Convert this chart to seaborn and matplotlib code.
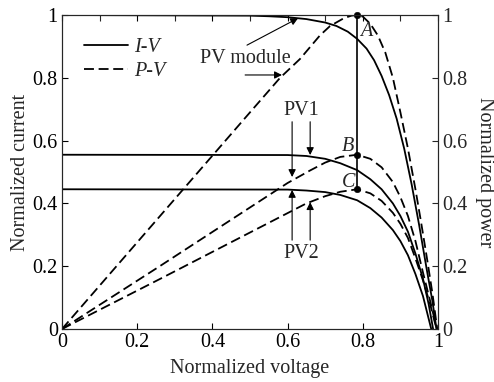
import matplotlib
matplotlib.use("Agg")
import matplotlib.pyplot as plt
import seaborn as sns
import pandas as pd
from matplotlib.lines import Line2D
from matplotlib.ticker import FixedLocator

# ---------------- data ----------------
v_mod_iv = [0, 0.5, 0.55, 0.6, 0.65, 0.7, 0.73, 0.76, 0.785, 0.81, 0.83, 0.85, 0.87, 0.89, 0.91, 0.93, 0.95, 0.97, 0.985, 0.996]
i_mod_iv = [1.0, 0.998, 0.996, 0.993, 0.987, 0.976, 0.965, 0.947, 0.924, 0.893, 0.856, 0.806, 0.745, 0.67, 0.575, 0.46, 0.33, 0.19, 0.09, 0.0]

v_mod_pv = [0, 0.2, 0.4, 0.5, 0.58, 0.633, 0.686, 0.713, 0.75, 0.77, 0.785, 0.80, 0.82, 0.84, 0.86, 0.88, 0.90, 0.92, 0.94, 0.955, 0.97, 0.985, 0.998]
p_mod_pv = [0, 0.276, 0.552, 0.69, 0.80, 0.86, 0.935, 0.965, 0.99, 0.998, 1.0, 0.995, 0.972, 0.935, 0.88, 0.80, 0.69, 0.575, 0.445, 0.34, 0.23, 0.115, 0.0]

v_pv1_iv = [0, 0.6, 0.65, 0.7, 0.74, 0.785, 0.82, 0.85, 0.88, 0.9, 0.92, 0.94, 0.96, 0.975, 0.987]
i_pv1_iv = [0.555, 0.554, 0.551, 0.542, 0.528, 0.506, 0.477, 0.445, 0.40, 0.36, 0.31, 0.24, 0.16, 0.08, 0.0]

v_pv1_pv = [0, 0.26, 0.6, 0.66, 0.7, 0.74, 0.785, 0.82, 0.85, 0.88, 0.9, 0.92, 0.94, 0.96, 0.98, 0.997]
p_pv1_pv = [0, 0.20, 0.465, 0.505, 0.53, 0.548, 0.555, 0.542, 0.515, 0.468, 0.42, 0.36, 0.28, 0.18, 0.085, 0.0]

v_pv2_iv = [0, 0.6, 0.65, 0.7, 0.74, 0.785, 0.82, 0.85, 0.88, 0.9, 0.92, 0.94, 0.96, 0.982]
i_pv2_iv = [0.445, 0.444, 0.441, 0.436, 0.427, 0.41, 0.385, 0.355, 0.315, 0.28, 0.235, 0.175, 0.105, 0.0]

v_pv2_pv = [0, 0.26, 0.65, 0.7, 0.74, 0.785, 0.82, 0.85, 0.88, 0.9, 0.92, 0.94, 0.96, 0.98, 0.996]
p_pv2_pv = [0, 0.159, 0.40, 0.423, 0.437, 0.445, 0.432, 0.408, 0.37, 0.335, 0.29, 0.225, 0.155, 0.075, 0.0]

mpp_v = 0.785
mpp_vals = [1.0, 0.555, 0.445]
mpp_labels = ["A", "B", "C"]

x_ticks = [0, 0.2, 0.4, 0.6, 0.8, 1.0]
x_ticklabels = ["0", "0.2", "0.4", "0.6", "0.8", "1"]
x_top_minor = [0.1, 0.3, 0.5, 0.7, 0.9]
y_ticks = [0, 0.2, 0.4, 0.6, 0.8, 1.0]
y_ticklabels = ["0", "0.2", "0.4", "0.6", "0.8", "1"]

# ---------------- style ----------------
sns.set_style("ticks")
plt.rcParams["font.family"] = ["Liberation Serif", "DejaVu Serif"]
FS = 14.5

fig = plt.figure(figsize=(4.94, 3.82), dpi=100)
ax = fig.add_axes([62 / 494, 53 / 382, 376 / 494, 314 / 382])

LW = 1.3
DASH = (5.5, 2.6)

curves = [
    (v_mod_iv, i_mod_iv, "-"),
    (v_mod_pv, p_mod_pv, "--"),
    (v_pv1_iv, i_pv1_iv, "-"),
    (v_pv1_pv, p_pv1_pv, "--"),
    (v_pv2_iv, i_pv2_iv, "-"),
    (v_pv2_pv, p_pv2_pv, "--"),
]
for xs, ys, ls in curves:
    df = pd.DataFrame({"v": xs, "y": ys})
    sns.lineplot(data=df, x="v", y="y", ax=ax, color="black", lw=LW,
                 sort=False, estimator=None)
    l = ax.lines[-1]
    l.set_solid_joinstyle("round")
    if ls == "--":
        l.set_dashes(DASH)

# vertical MPP line and points
sns.lineplot(x=[mpp_v, mpp_v], y=[min(mpp_vals), max(mpp_vals)], ax=ax,
             color="black", lw=1.2, estimator=None)
sns.scatterplot(x=[mpp_v] * 3, y=mpp_vals, ax=ax, color="black", s=22,
                edgecolor="black", zorder=5, clip_on=False)

# A B C labels
lab_pos = {"A": (0.809, 0.946), "B": (0.761, 0.58), "C": (0.761, 0.468)}
for lab in mpp_labels:
    x, y = lab_pos[lab]
    ax.text(x, y, lab, fontsize=FS, fontstyle="italic", ha="center", va="center")

# annotations
ap = dict(arrowstyle="-|>", color="black", lw=0.8, mutation_scale=11, shrinkA=0, shrinkB=0)
ax.text(0.487, 0.863, "PV module", fontsize=FS, ha="center", va="center")
ax.annotate("", xy=(0.628, 0.99), xytext=(0.492, 0.904), arrowprops=ap)
ax.annotate("", xy=(0.585, 0.809), xytext=(0.487, 0.809), arrowprops=ap)

ax.text(0.636, 0.697, "PV1", fontsize=FS, ha="center", va="center")
ax.annotate("", xy=(0.612, 0.484), xytext=(0.612, 0.66), arrowprops=ap)
ax.annotate("", xy=(0.66, 0.554), xytext=(0.66, 0.66), arrowprops=ap)

ax.text(0.636, 0.242, "PV2", fontsize=FS, ha="center", va="center")
ax.annotate("", xy=(0.612, 0.443), xytext=(0.612, 0.283), arrowprops=ap)
ax.annotate("", xy=(0.66, 0.404), xytext=(0.66, 0.283), arrowprops=ap)

# legend
handles = [Line2D([], [], color="black", lw=LW),
           Line2D([], [], color="black", lw=LW, dashes=DASH)]
leg = ax.legend(handles, ["I-V", "P-V"], loc="upper left",
                bbox_to_anchor=(0.01, 0.985), frameon=False, fontsize=FS,
                handlelength=2.2, handletextpad=0.3, labelspacing=0.25)
for t in leg.get_texts():
    t.set_fontstyle("italic")

# axes
ax.set_xlim(0, 1)
ax.set_ylim(0, 1)
ax.set_xticks(x_ticks)
ax.set_xticklabels(x_ticklabels, fontsize=FS)
ax.xaxis.set_minor_locator(FixedLocator(x_top_minor))
ax.set_yticks(y_ticks)
ax.set_yticklabels(y_ticklabels, fontsize=FS)
ax.tick_params(axis="both", which="major", direction="in", length=4, width=0.8,
               pad=3, colors="black")
ax.tick_params(axis="x", which="major", top=True)
ax.tick_params(axis="x", which="minor", bottom=False, top=True, direction="in",
               length=4, width=0.8)
ax.set_xlabel("Normalized voltage", fontsize=FS, labelpad=5)
ax.set_ylabel("Normalized current", fontsize=FS, labelpad=2)
for sp in ax.spines.values():
    sp.set_visible(True)
    sp.set_linewidth(0.8)
    sp.set_color("#333333")

ax2 = ax.twinx()
ax2.set_ylim(0, 1)
ax2.set_yticks(y_ticks)
ax2.set_yticklabels(y_ticklabels, fontsize=FS)
ax2.tick_params(direction="in", length=4, width=0.8, pad=3)
ax2.set_ylabel("Normalized power", fontsize=FS, rotation=270, labelpad=19)

fig.savefig("out.png", dpi=100)
